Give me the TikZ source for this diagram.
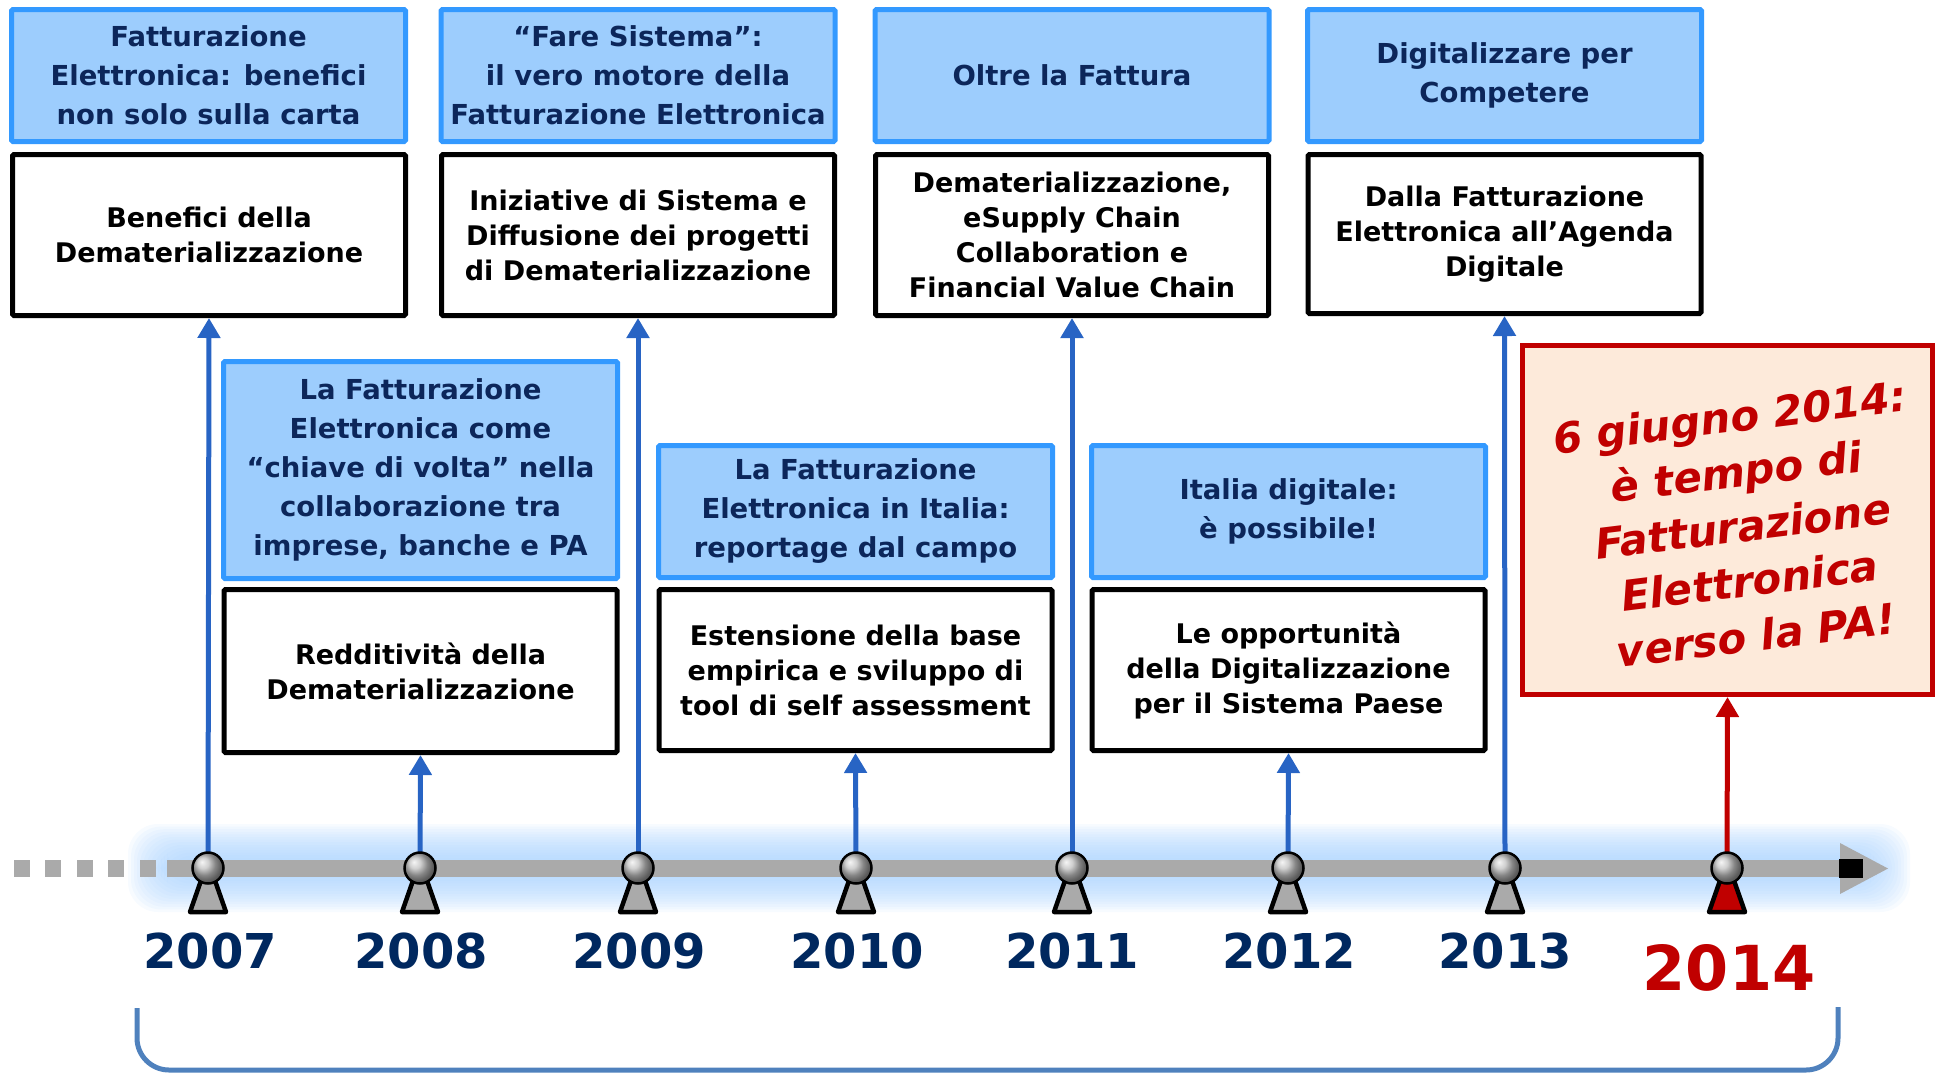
\documentclass[tikz,border=0pt]{standalone}
\usepackage{fontspec}
\setmainfont{DejaVu Sans}
\usetikzlibrary{arrows.meta}
\definecolor{navy}{RGB}{12,38,90}
\definecolor{bfill}{RGB}{157,205,253}
\definecolor{bdraw}{RGB}{51,153,255}
\definecolor{connc}{RGB}{40,100,196}
\definecolor{redc}{RGB}{192,0,0}
\definecolor{rfill}{RGB}{253,234,218}
\definecolor{axgray}{RGB}{170,170,170}
\definecolor{glowc}{RGB}{165,208,255}
\definecolor{brk}{RGB}{79,129,189}
\definecolor{yearc}{RGB}{0,40,95}
\begin{document}
\begin{tikzpicture}[x=1pt,y=-1pt,
  bluebox/.style={draw=bdraw, fill=bfill, line width=5pt, minimum width=394pt, align=center, text=navy, font=\fontsize{27.5}{39}\selectfont\bfseries, inner sep=0pt, rounded corners=1.5pt},
  whitebox/.style={draw=black, fill=white, line width=5pt, minimum width=393pt, align=center, font=\fontsize{27}{35}\selectfont\bfseries, inner sep=0pt, rounded corners=1.5pt},
  conn/.style={draw=connc, line width=5pt, -{Triangle[width=22pt,length=20pt]}},
  redconn/.style={draw=redc, line width=5pt, -{Triangle[width=22pt,length=20pt]}},
  ball/.style={circle, draw=black, line width=2.5pt, minimum size=31pt, inner sep=0pt, ball color=gray!50!white},
  yearlbl/.style={anchor=base, text=yearc, font=\fontsize{48}{50}\selectfont\bfseries},
  redtext/.style={align=center, rotate=7, font=\fontsize{42}{55}\selectfont\bfseries\itshape}
]
\useasboundingbox (0,0) rectangle (1937,1074);

% soft glow around the axis
\foreach \i in {0,...,13}{
  \fill[glowc, opacity=0.09, rounded corners=30pt] (128+\i*3, 824+\i*2.6) rectangle (1910-\i*3, 912-\i*2.6);
}

% dotted start
\foreach \x in {14,45,77,108,140}{
  \fill[axgray] (\x,860) rectangle (\x+16,877);
}
% axis bar
\fill[axgray] (167,860) rectangle (1842,877);
\fill[axgray] (1840,843) -- (1888,868.5) -- (1840,894) -- cycle;
\fill[black] (1839,859) rectangle (1863,878);

% top row
\node[bluebox, minimum height=132pt] (t1) at (208.5,75.5) {Fatturazione\\Elettronica: benefici\\non solo sulla carta};
\node[bluebox, minimum height=132pt] (t2) at (638,75.5) {“Fare Sistema”:\\il vero motore della\\Fatturazione Elettronica};
\node[bluebox, minimum height=132pt] (t3) at (1072,75.5) {Oltre la Fattura};
\node[bluebox, minimum height=132pt] (t4) at (1504.5,75.5) {Digitalizzare per\\Competere};

\node[whitebox, minimum height=161pt] (w1) at (209,235) {Benefici della\\Dematerializzazione};
\node[whitebox, minimum height=161pt] (w2) at (638,235) {Iniziative di Sistema e\\Diffusione dei progetti\\di Dematerializzazione};
\node[whitebox, minimum height=161pt] (w3) at (1072,235) {Dematerializzazione,\\eSupply Chain\\Collaboration e\\Financial Value Chain};
\node[whitebox, minimum height=159pt] (w4) at (1504.5,234) {Dalla Fatturazione\\Elettronica all’Agenda\\Digitale};

% lower row
\node[bluebox, minimum height=217pt] (bA) at (420.5,470) {La Fatturazione\\Elettronica come\\“chiave di volta” nella\\collaborazione tra\\imprese, banche e PA};
\node[bluebox, minimum height=132pt] (bB) at (855.5,511.5) {La Fatturazione\\Elettronica in Italia:\\reportage dal campo};
\node[bluebox, minimum height=132pt] (bC) at (1288.5,511.5) {Italia digitale:\\è possibile!};

\node[whitebox, minimum height=163pt] (wA) at (420.5,671) {Redditività della\\Dematerializzazione};
\node[whitebox, minimum height=161pt] (wB) at (855.5,670) {Estensione della base\\empirica e sviluppo di\\tool di self assessment};
\node[whitebox, minimum height=161pt] (wC) at (1288.5,670) {Le opportunità\\della Digitalizzazione\\per il Sistema Paese};

% red box
\node[draw=redc, fill=rfill, line width=5pt, minimum width=410pt, minimum height=349pt, inner sep=0pt] (red) at (1727.5,520) {};
\node[redtext, text=redc] (rt) at (1743,526) {6 giugno 2014:\\è tempo di\\Fatturazione\\Elettronica\\verso la PA!};

% ball positions (coordinates)
\foreach \x/\n in {208/a,420/b,638/c,856/d,1072/e,1288/f,1505/g,1727/h}{
  \coordinate (p\n) at (\x,868);
}

% connectors
\draw[conn] (pa) -- (w1.south);
\draw[conn] (pb) -- (wA.south);
\draw[conn] (pc) -- (w2.south);
\draw[conn] (pd) -- (wB.south);
\draw[conn] (pe) -- (w3.south);
\draw[conn] (pf) -- (wC.south);
\draw[conn] (pg) -- (w4.south);
\draw[redconn] (ph) -- (red.south);

% pedestals
\foreach \x in {208,420,638,856,1072,1288,1505}{
  \draw[line width=4.5pt, line join=round, fill=axgray] (\x-4,872) -- (\x+4,872) -- (\x+18,912) -- (\x-18,912) -- cycle;
}
\draw[line width=4.5pt, line join=round, fill=redc] (1727-4,872) -- (1727+4,872) -- (1727+18,912) -- (1727-18,912) -- cycle;

% balls
\node[ball] (ba) at (pa) {};
\node[ball] (bb) at (pb) {};
\node[ball] (bc) at (pc) {};
\node[ball] (bd) at (pd) {};
\node[ball] (be) at (pe) {};
\node[ball] (bf) at (pf) {};
\node[ball] (bg) at (pg) {};
\node[ball] (bh) at (ph) {};

% year labels
\node[yearlbl] (l7) at (210,968) {2007};
\node[yearlbl] (l8) at (421,968) {2008};
\node[yearlbl] (l9) at (639,968) {2009};
\node[yearlbl] (l10) at (857,968) {2010};
\node[yearlbl] (l11) at (1072,968) {2011};
\node[yearlbl] (l12) at (1289,968) {2012};
\node[yearlbl] (l13) at (1505,968) {2013};
\node[yearlbl, text=redc, font=\fontsize{62}{64}\selectfont\bfseries] (l14) at (1729,990) {2014};

% bracket
\coordinate (brA) at (137,1008);
\coordinate (brB) at (1838,1007);
\draw[brk, line width=5pt, rounded corners=32pt] (brA) -- (137,1070) -- (1838,1070) -- (brB);
\end{tikzpicture}
\end{document}
